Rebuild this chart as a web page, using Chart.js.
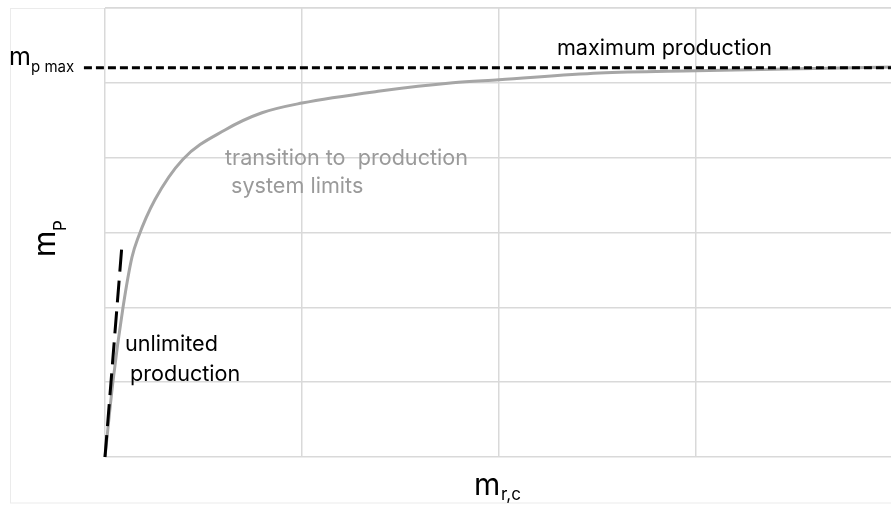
<!DOCTYPE html>
<html>
<head>
<meta charset="utf-8">
<script src="https://cdn.jsdelivr.net/npm/chart.js@4.4.1/dist/chart.umd.min.js"></script>
<style>
  html, body { margin: 0; padding: 0; background: #ffffff; overflow: hidden; }
  #wrap { position: relative; width: 900px; height: 508px; }
</style>
</head>
<body>
<div id="wrap"><canvas id="c"></canvas></div>
<script>
// ---- data ----
const curveX = [0, 0.04, 0.091, 0.137, 0.168, 0.254, 0.396, 0.609, 0.797, 1.0, 1.396, 1.766, 2.0, 2.51, 3.0, 4.0];
const curveY = [0, 1.0, 1.99, 2.67, 2.93, 3.44, 3.98, 4.37, 4.60, 4.73, 4.89, 5.0, 5.04, 5.13, 5.16, 5.21];
const maxLineX = [-0.107, 4.0];
const maxLineY = [5.2, 5.2];
const slopeLineX = [0, 0.086];
const slopeLineY = [0, 2.83];
const xTicks = [0, 1, 2, 3, 4];
const yTicks = [0, 1, 2, 3, 4, 5, 6];

const toPts = (xs, ys) => xs.map((x, i) => ({ x: x, y: ys[i] }));

const FONT = 'Inter, "Open Sans", sans-serif';

const annotations = [
  { text: 'maximum production', x: 2.294, y: 5.374, color: '#000000' },
  { text: 'transition to  production', x: 0.609, y: 3.9, color: '#9a9a9a' },
  { text: 'system limits', x: 0.64, y: 3.53, color: '#9a9a9a' },
  { text: 'unlimited', x: 0.102, y: 1.417, color: '#000000' },
  { text: 'production', x: 0.127, y: 1.016, color: '#000000' }
];

const framePlugin = {
  id: 'frame',
  beforeDraw(chart) {
    const ctx = chart.ctx;
    ctx.save();
    ctx.strokeStyle = '#ebebeb';
    ctx.lineWidth = 1;
    ctx.strokeRect(10.5, 8.5, 1000, 494.5);
    ctx.restore();
  }
};

const textPlugin = {
  id: 'texts',
  afterDraw(chart) {
    const ctx = chart.ctx;
    const xs = chart.scales.x, ys = chart.scales.y;
    ctx.save();
    ctx.textBaseline = 'alphabetic';
    ctx.textAlign = 'left';
    ctx.font = '21.6px ' + FONT;
    annotations.forEach(a => {
      ctx.fillStyle = a.color;
      ctx.fillText(a.text, xs.getPixelForValue(a.x), ys.getPixelForValue(a.y));
    });
    ctx.fillStyle = '#000000';
    // m_p max label at the max line
    const yMax = ys.getPixelForValue(maxLineY[0]);
    ctx.font = '25px ' + FONT;
    ctx.fillText('m', 9, yMax - 3);
    ctx.font = '15px ' + FONT;
    ctx.fillText('p max', 31, yMax + 4);
    // x axis title
    ctx.font = '30px ' + FONT;
    ctx.fillText('m', 474, 495);
    ctx.font = '17px ' + FONT;
    ctx.fillText('r,c', 501, 500);
    // y axis title (rotated)
    ctx.translate(55, 257);
    ctx.rotate(-Math.PI / 2);
    ctx.font = '30px ' + FONT;
    ctx.fillText('m', 0, 0);
    ctx.font = '17px ' + FONT;
    ctx.fillText('P', 26, 11);
    ctx.restore();
  }
};

new Chart(document.getElementById('c'), {
  type: 'scatter',
  data: {
    datasets: [
      {
        data: toPts(slopeLineX, slopeLineY),
        showLine: true,
        borderColor: '#000000',
        borderWidth: 3,
        borderDash: [22, 9],
        pointRadius: 0,
        clip: false
      },
      {
        data: toPts(maxLineX, maxLineY),
        showLine: true,
        borderColor: '#000000',
        borderWidth: 3,
        borderDash: [8, 4],
        pointRadius: 0,
        clip: false
      },
      {
        data: toPts(curveX, curveY),
        showLine: true,
        borderColor: '#a6a6a6',
        borderWidth: 3,
        cubicInterpolationMode: 'monotone',
        pointRadius: 0,
        clip: false
      }
    ]
  },
  options: {
    responsive: true,
    maintainAspectRatio: false,
    animation: false,
    layout: { padding: { left: 105, right: 7, top: 8, bottom: 51 } },
    plugins: { legend: { display: false }, tooltip: { enabled: false } },
    scales: {
      x: {
        type: 'linear',
        min: xTicks[0], max: xTicks[xTicks.length - 1],
        afterBuildTicks: s => { s.ticks = xTicks.map(v => ({ value: v })); },
        ticks: { display: false },
        grid: { color: '#d9d9d9', lineWidth: 1.5, drawTicks: false },
        border: { display: false }
      },
      y: {
        type: 'linear',
        min: yTicks[0], max: yTicks[yTicks.length - 1],
        afterBuildTicks: s => { s.ticks = yTicks.map(v => ({ value: v })); },
        ticks: { display: false },
        grid: { color: '#d9d9d9', lineWidth: 1.5, drawTicks: false },
        border: { display: false }
      }
    }
  },
  plugins: [framePlugin, textPlugin]
});
</script>
</body>
</html>
